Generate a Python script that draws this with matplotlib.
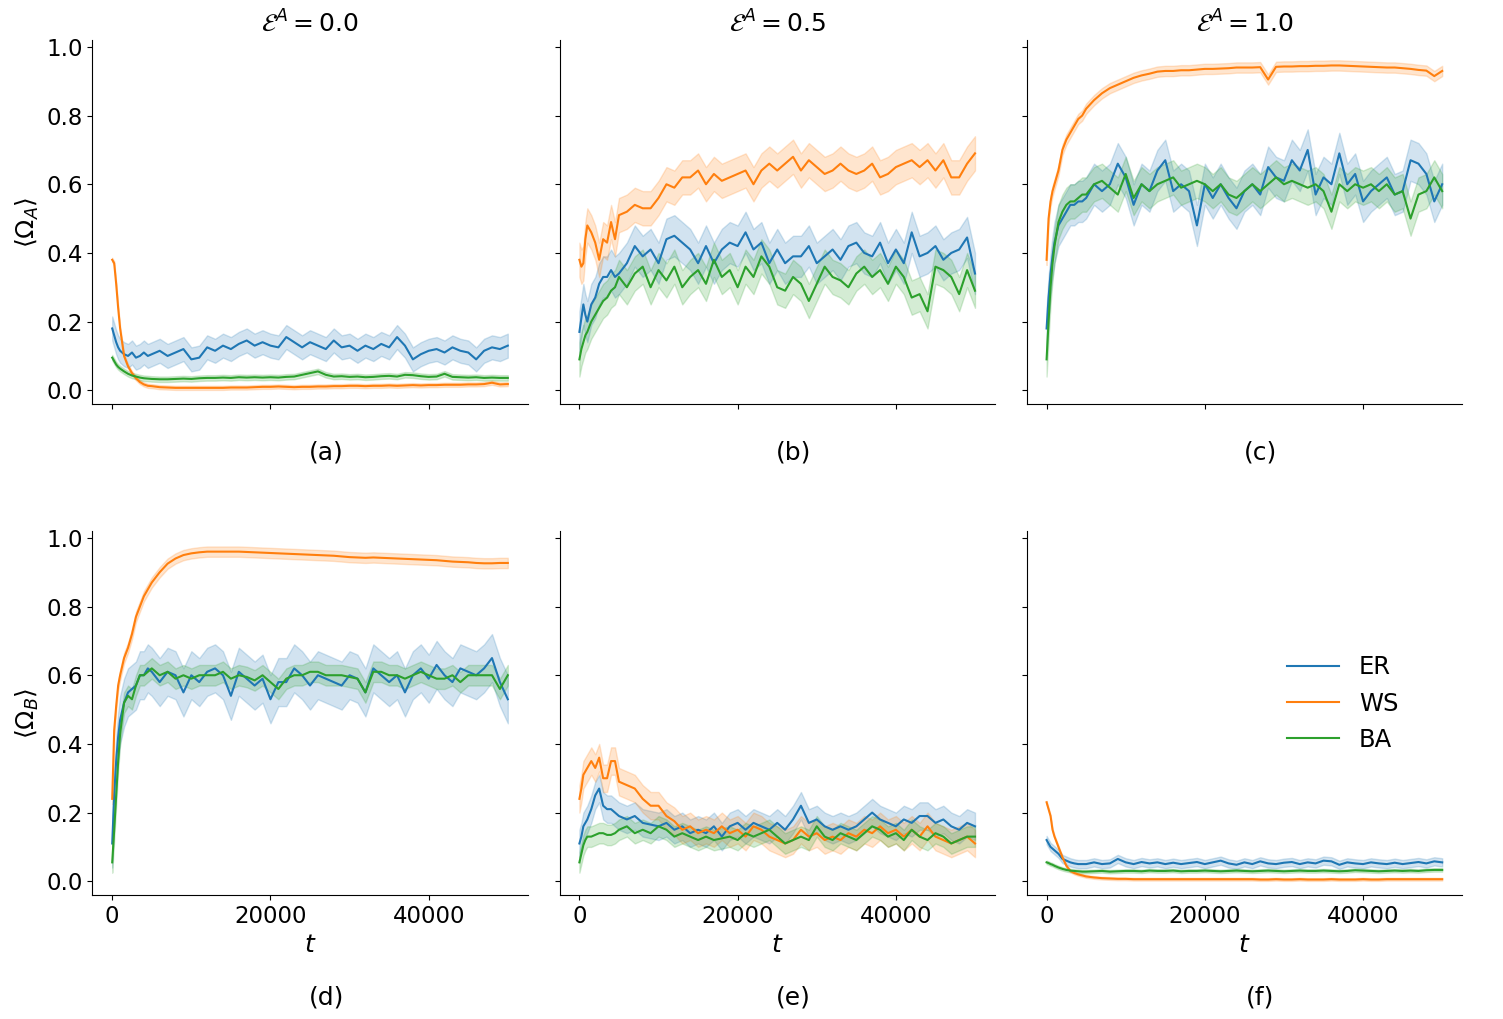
import matplotlib
matplotlib.use("Agg")
from matplotlib import pyplot as plt

# time grid (denser at the start where curves move fast)
t = [0, 250, 500, 750, 1000, 1500, 2000, 2500, 3000, 3500, 4000, 4500] + \
    list(range(5000, 50001, 1000))

networks = ["ER", "WS", "BA"]
colors = ["#1f77b4", "#ff7f0e", "#2ca02c"]
titles = [r"$\mathcal{E}^A = 0.0$", r"$\mathcal{E}^A = 0.5$", r"$\mathcal{E}^A = 1.0$"]
panel_labels = ["(a)", "(b)", "(c)", "(d)", "(e)", "(f)"]

# ---- row A: <Omega_A> ----
er_a = [0.18, 0.16, 0.14, 0.125, 0.115, 0.105, 0.10, 0.11, 0.095, 0.10, 0.11, 0.10,
        0.105, 0.115, 0.10, 0.11, 0.12, 0.09, 0.095, 0.125, 0.115, 0.13,
        0.12, 0.135, 0.145, 0.13, 0.14, 0.13, 0.125, 0.155, 0.14, 0.125,
        0.14, 0.13, 0.12, 0.145, 0.125, 0.13, 0.115, 0.13, 0.12, 0.135,
        0.125, 0.155, 0.13, 0.09, 0.105, 0.115, 0.12, 0.11, 0.125, 0.115,
        0.11, 0.09, 0.115, 0.125, 0.12, 0.13]
ws_a = [0.38, 0.37, 0.31, 0.24, 0.18, 0.10, 0.07, 0.05, 0.035, 0.024, 0.017, 0.013,
        0.012, 0.009, 0.008, 0.007, 0.007, 0.007, 0.007, 0.007, 0.007, 0.007,
        0.008, 0.008, 0.008, 0.009, 0.010, 0.010, 0.011, 0.010, 0.009, 0.010,
        0.010, 0.011, 0.011, 0.012, 0.012, 0.013, 0.013, 0.012, 0.013, 0.013,
        0.014, 0.013, 0.014, 0.015, 0.014, 0.015, 0.015, 0.016, 0.016, 0.016,
        0.017, 0.017, 0.018, 0.022, 0.017, 0.018]
ba_a = [0.095, 0.085, 0.075, 0.068, 0.063, 0.055, 0.048, 0.043, 0.04, 0.037, 0.035, 0.034,
        0.033, 0.032, 0.032, 0.033, 0.034, 0.033, 0.035, 0.036, 0.036, 0.037,
        0.036, 0.038, 0.037, 0.038, 0.037, 0.038, 0.037, 0.039, 0.04, 0.045,
        0.05, 0.055, 0.045, 0.04, 0.041, 0.039, 0.040, 0.038, 0.039, 0.041,
        0.042, 0.04, 0.045, 0.044, 0.041, 0.039, 0.040, 0.048, 0.039, 0.038,
        0.037, 0.038, 0.036, 0.037, 0.036, 0.036]

er_b = [0.17, 0.21, 0.25, 0.22, 0.20, 0.25, 0.27, 0.31, 0.33, 0.33, 0.35, 0.33,
        0.34, 0.37, 0.42, 0.39, 0.41, 0.37, 0.44, 0.45, 0.43, 0.41,
        0.37, 0.42, 0.37, 0.41, 0.43, 0.42, 0.46, 0.41, 0.43, 0.37,
        0.41, 0.37, 0.39, 0.39, 0.42, 0.37, 0.39, 0.41, 0.38, 0.42,
        0.43, 0.40, 0.39, 0.43, 0.37, 0.41, 0.37, 0.46, 0.39, 0.40,
        0.42, 0.38, 0.40, 0.41, 0.445, 0.34]
ws_b = [0.38, 0.36, 0.37, 0.44, 0.48, 0.46, 0.43, 0.38, 0.44, 0.43, 0.49, 0.44,
        0.51, 0.52, 0.54, 0.53, 0.53, 0.56, 0.60, 0.59, 0.62, 0.62,
        0.64, 0.60, 0.63, 0.61, 0.62, 0.63, 0.64, 0.60, 0.64, 0.66,
        0.64, 0.66, 0.68, 0.64, 0.67, 0.65, 0.63, 0.64, 0.66, 0.64,
        0.63, 0.64, 0.66, 0.62, 0.63, 0.65, 0.66, 0.67, 0.65, 0.67,
        0.64, 0.67, 0.62, 0.62, 0.66, 0.69]
ba_b = [0.09, 0.12, 0.14, 0.16, 0.17, 0.20, 0.22, 0.24, 0.26, 0.27, 0.29, 0.30,
        0.33, 0.30, 0.34, 0.36, 0.30, 0.35, 0.32, 0.36, 0.30, 0.33,
        0.35, 0.31, 0.38, 0.33, 0.35, 0.30, 0.36, 0.33, 0.39, 0.36,
        0.30, 0.29, 0.33, 0.31, 0.26, 0.31, 0.36, 0.33, 0.32, 0.30,
        0.34, 0.36, 0.33, 0.35, 0.31, 0.36, 0.33, 0.27, 0.28, 0.23,
        0.36, 0.35, 0.33, 0.28, 0.35, 0.29]

er_c = [0.18, 0.27, 0.34, 0.39, 0.43, 0.48, 0.50, 0.52, 0.54, 0.54, 0.55, 0.55,
        0.56, 0.60, 0.58, 0.60, 0.66, 0.62, 0.54, 0.60, 0.58, 0.64,
        0.67, 0.58, 0.60, 0.58, 0.48, 0.60, 0.56, 0.60, 0.56, 0.53,
        0.58, 0.60, 0.57, 0.65, 0.62, 0.61, 0.67, 0.64, 0.70, 0.57,
        0.62, 0.60, 0.69, 0.60, 0.63, 0.55, 0.58, 0.60, 0.62, 0.57,
        0.58, 0.67, 0.66, 0.63, 0.55, 0.60]
ws_c = [0.38, 0.50, 0.55, 0.58, 0.60, 0.64, 0.70, 0.73, 0.75, 0.77, 0.79, 0.80,
        0.82, 0.845, 0.865, 0.88, 0.89, 0.90, 0.91, 0.917, 0.922, 0.928,
        0.93, 0.93, 0.932, 0.932, 0.934, 0.936, 0.936, 0.937, 0.938, 0.94,
        0.94, 0.94, 0.941, 0.905, 0.942, 0.943, 0.943, 0.944, 0.944, 0.945,
        0.945, 0.946, 0.946, 0.945, 0.944, 0.943, 0.942, 0.941, 0.940, 0.940,
        0.938, 0.936, 0.933, 0.931, 0.915, 0.93]
ba_c = [0.09, 0.20, 0.30, 0.37, 0.42, 0.49, 0.52, 0.54, 0.55, 0.55, 0.56, 0.57,
        0.57, 0.60, 0.61, 0.59, 0.57, 0.63, 0.56, 0.60, 0.58, 0.60,
        0.61, 0.62, 0.59, 0.60, 0.61, 0.60, 0.58, 0.60, 0.57, 0.56,
        0.58, 0.60, 0.58, 0.60, 0.62, 0.60, 0.61, 0.60, 0.59, 0.60,
        0.58, 0.52, 0.60, 0.58, 0.60, 0.59, 0.60, 0.58, 0.60, 0.57,
        0.58, 0.50, 0.57, 0.58, 0.62, 0.58]

# ---- row B: <Omega_B> ----
er_d = [0.11, 0.25, 0.35, 0.42, 0.47, 0.52, 0.55, 0.56, 0.57, 0.60, 0.60, 0.62,
        0.61, 0.58, 0.61, 0.60, 0.55, 0.60, 0.58, 0.61, 0.62, 0.60,
        0.54, 0.61, 0.59, 0.57, 0.59, 0.53, 0.58, 0.58, 0.62, 0.60,
        0.57, 0.60, 0.59, 0.58, 0.57, 0.60, 0.59, 0.55, 0.62, 0.60,
        0.58, 0.60, 0.55, 0.60, 0.62, 0.59, 0.63, 0.60, 0.58, 0.62,
        0.61, 0.60, 0.62, 0.65, 0.58, 0.53]
ws_d = [0.24, 0.44, 0.51, 0.57, 0.60, 0.65, 0.68, 0.72, 0.77, 0.80, 0.83, 0.85,
        0.87, 0.90, 0.925, 0.94, 0.95, 0.955, 0.958, 0.96, 0.96, 0.96,
        0.96, 0.96, 0.959, 0.958, 0.957, 0.956, 0.955, 0.954, 0.953, 0.952,
        0.951, 0.95, 0.949, 0.948, 0.946, 0.944, 0.943, 0.942, 0.943, 0.942,
        0.941, 0.940, 0.939, 0.938, 0.937, 0.936, 0.935, 0.933, 0.931, 0.930,
        0.929, 0.927, 0.926, 0.926, 0.927, 0.927]
ba_d = [0.055, 0.15, 0.25, 0.35, 0.43, 0.52, 0.54, 0.53, 0.57, 0.60, 0.60, 0.61,
        0.62, 0.60, 0.61, 0.59, 0.60, 0.59, 0.60, 0.60, 0.60, 0.61,
        0.59, 0.60, 0.595, 0.585, 0.60, 0.58, 0.56, 0.59, 0.60, 0.60,
        0.61, 0.61, 0.60, 0.60, 0.60, 0.595, 0.59, 0.55, 0.61, 0.61,
        0.60, 0.60, 0.59, 0.60, 0.61, 0.60, 0.59, 0.59, 0.60, 0.58,
        0.60, 0.60, 0.60, 0.60, 0.56, 0.60]

er_e = [0.11, 0.13, 0.16, 0.17, 0.18, 0.21, 0.25, 0.27, 0.22, 0.21, 0.21, 0.20,
        0.19, 0.18, 0.19, 0.17, 0.165, 0.16, 0.17, 0.15, 0.16, 0.14,
        0.15, 0.14, 0.16, 0.13, 0.16, 0.17, 0.15, 0.17, 0.16, 0.15,
        0.17, 0.15, 0.18, 0.22, 0.17, 0.18, 0.16, 0.15, 0.16, 0.15,
        0.16, 0.18, 0.20, 0.18, 0.17, 0.16, 0.18, 0.17, 0.19, 0.19,
        0.17, 0.18, 0.16, 0.15, 0.17, 0.16]
ws_e = [0.24, 0.27, 0.31, 0.32, 0.33, 0.35, 0.33, 0.36, 0.30, 0.30, 0.35, 0.35,
        0.29, 0.28, 0.27, 0.24, 0.22, 0.22, 0.19, 0.175, 0.15, 0.16,
        0.14, 0.15, 0.14, 0.16, 0.14, 0.15, 0.13, 0.16, 0.15, 0.13,
        0.12, 0.11, 0.12, 0.15, 0.13, 0.14, 0.12, 0.13, 0.12, 0.14,
        0.13, 0.15, 0.14, 0.16, 0.14, 0.15, 0.13, 0.15, 0.13, 0.16,
        0.13, 0.12, 0.11, 0.12, 0.13, 0.11]
ba_e = [0.055, 0.08, 0.105, 0.12, 0.13, 0.13, 0.135, 0.14, 0.14, 0.135, 0.135, 0.14,
        0.15, 0.16, 0.14, 0.15, 0.14, 0.16, 0.15, 0.13, 0.14, 0.13,
        0.12, 0.13, 0.12, 0.125, 0.13, 0.12, 0.14, 0.13, 0.14, 0.15,
        0.13, 0.11, 0.12, 0.13, 0.12, 0.16, 0.13, 0.12, 0.14, 0.13,
        0.12, 0.14, 0.16, 0.15, 0.13, 0.14, 0.12, 0.15, 0.13, 0.12,
        0.14, 0.13, 0.11, 0.12, 0.13, 0.13]

er_f = [0.12, 0.11, 0.10, 0.095, 0.09, 0.08, 0.065, 0.06, 0.055, 0.052, 0.05, 0.05,
        0.05, 0.055, 0.05, 0.052, 0.065, 0.055, 0.05, 0.056, 0.052, 0.055,
        0.05, 0.054, 0.05, 0.053, 0.056, 0.05, 0.055, 0.06, 0.052, 0.048,
        0.055, 0.05, 0.058, 0.052, 0.05, 0.054, 0.056, 0.05, 0.055, 0.052,
        0.06, 0.058, 0.048, 0.055, 0.052, 0.05, 0.055, 0.052, 0.05, 0.054,
        0.05, 0.053, 0.056, 0.052, 0.058, 0.055]
ws_f = [0.23, 0.21, 0.19, 0.15, 0.13, 0.10, 0.07, 0.045, 0.03, 0.024, 0.02, 0.017,
        0.014, 0.011, 0.009, 0.008, 0.007, 0.007, 0.006, 0.006, 0.006, 0.006,
        0.006, 0.006, 0.006, 0.006, 0.006, 0.006, 0.006, 0.006, 0.006, 0.006,
        0.006, 0.006, 0.005, 0.005, 0.006, 0.005, 0.005, 0.006, 0.005, 0.005,
        0.005, 0.006, 0.005, 0.005, 0.005, 0.006, 0.005, 0.005, 0.006, 0.006,
        0.006, 0.006, 0.006, 0.006, 0.006, 0.006]
ba_f = [0.055, 0.053, 0.05, 0.048, 0.045, 0.04, 0.036, 0.033, 0.031, 0.03, 0.029, 0.028,
        0.028, 0.029, 0.03, 0.028, 0.029, 0.03, 0.03, 0.029, 0.031, 0.03,
        0.03, 0.031, 0.029, 0.03, 0.03, 0.031, 0.03, 0.029, 0.03, 0.031,
        0.03, 0.029, 0.03, 0.031, 0.03, 0.029, 0.03, 0.031, 0.03, 0.03,
        0.031, 0.03, 0.029, 0.03, 0.032, 0.031, 0.03, 0.029, 0.03, 0.031,
        0.03, 0.031, 0.03, 0.032, 0.033, 0.033]

# half width of the shaded band, per panel and network (ER, WS, BA)
band_a = [0.035, 0.006, 0.008]
band_b = [0.06, 0.05, 0.05]
band_c = [0.06, 0.015, 0.05]
band_d = [0.07, 0.015, 0.03]
band_e = [0.04, 0.04, 0.03]
band_f = [0.012, 0.004, 0.005]

panels = [
    [er_a, ws_a, ba_a], [er_b, ws_b, ba_b], [er_c, ws_c, ba_c],
    [er_d, ws_d, ba_d], [er_e, ws_e, ba_e], [er_f, ws_f, ba_f],
]
bands = [band_a, band_b, band_c, band_d, band_e, band_f]

plt.rcParams["font.size"] = 16.5
plt.rcParams["xtick.labelsize"] = 16.5
plt.rcParams["ytick.labelsize"] = 16.5

fig, axes = plt.subplots(2, 3, figsize=(15.03, 10.19), dpi=100, sharex=True, sharey=True)
plt.subplots_adjust(left=0.0615, right=0.9727, top=0.9607, bottom=0.1217,
                    wspace=0.0736, hspace=0.349)

for i, ax in enumerate(axes.flat):
    for series, w, col, name in zip(panels[i], bands[i], colors, networks):
        lo = [v - w for v in series]
        hi = [v + w for v in series]
        ax.fill_between(t, lo, hi, color=col, alpha=0.2)
        ax.plot(t, series, color=col, lw=1.5, label=name)
    ax.spines["top"].set_visible(False)
    ax.spines["right"].set_visible(False)
    row = i // 3
    ypos = -0.132 if row == 0 else -0.282
    ax.text(0.537, ypos, panel_labels[i], transform=ax.transAxes,
            ha="center", va="center", fontsize=18)

for j in range(3):
    axes[0, j].set_title(titles[j], fontsize=18)
    axes[1, j].set_xlabel(r"$t$", fontsize=18)

axes[0, 0].set_ylabel(r"$\langle \Omega_A \rangle$", fontsize=18)
axes[1, 0].set_ylabel(r"$\langle \Omega_B \rangle$", fontsize=18)
axes[0, 0].set_yticks([0.0, 0.2, 0.4, 0.6, 0.8, 1.0])
axes[0, 0].set_xticks([0, 20000, 40000])
axes[0, 0].set_xlim(-2500, 52500)
axes[0, 0].set_ylim(-0.04, 1.02)

axes[1, 2].legend(loc="center right", bbox_to_anchor=(0.876, 0.526), borderaxespad=0,
                  frameon=False, fontsize=17.5, handlelength=2.15)

plt.savefig("out.png", dpi=100)
